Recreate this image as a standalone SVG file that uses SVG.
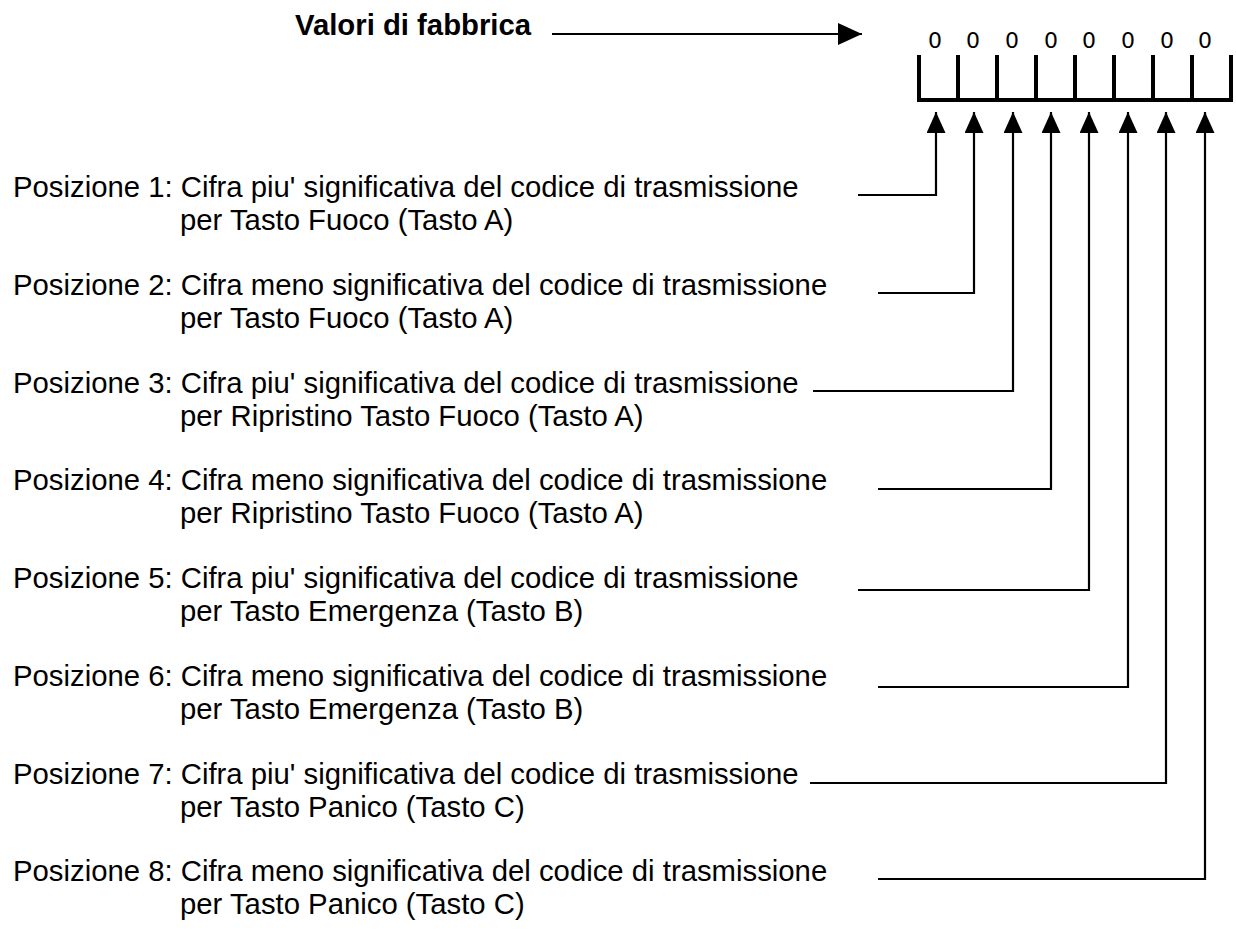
<svg xmlns="http://www.w3.org/2000/svg" width="1236" height="952" viewBox="0 0 1236 952">
<style>
text{font-family:"Liberation Sans",Arial,sans-serif;font-size:29.3px;fill:#000}
.b{font-weight:bold}
.d{font-family:"DejaVu Sans","Liberation Sans",sans-serif;font-size:22px;text-anchor:middle}
.c{fill:none;stroke:#000;stroke-width:2.2}
.box{fill:none;stroke:#000;stroke-width:4}
</style>
<defs>
<marker id="ah" viewBox="0 0 21 19" refX="21" refY="9.5" markerWidth="21" markerHeight="19" markerUnits="userSpaceOnUse" orient="auto"><path d="M0,0 L21,9.5 L0,19 z" fill="#000"/></marker>
<marker id="ah2" viewBox="0 0 24 22" refX="24" refY="11" markerWidth="24" markerHeight="22" markerUnits="userSpaceOnUse" orient="auto"><path d="M0,0 L24,11 L0,22 z" fill="#000"/></marker>
</defs>
<g id="title"><text class="b" x="295" y="35">Valori di fabbrica</text></g>
<g id="register">
<path class="box" d="M919,55 V100 H1231 V55 M958,55 V100 M997,55 V100 M1036,55 V100 M1075,55 V100 M1114,55 V100 M1153,55 V100 M1192,55 V100"/>
<text class="d" x="935" y="48">0</text>
<text class="d" x="973" y="48">0</text>
<text class="d" x="1012" y="48">0</text>
<text class="d" x="1051" y="48">0</text>
<text class="d" x="1089" y="48">0</text>
<text class="d" x="1128" y="48">0</text>
<text class="d" x="1167" y="48">0</text>
<text class="d" x="1205" y="48">0</text>
</g>
<g id="p1"><text x="13" y="197">Posizione 1: Cifra piu' significativa del codice di trasmissione</text><text x="180" y="230">per Tasto Fuoco (Tasto A)</text></g>
<g id="p2"><text x="13" y="295">Posizione 2: Cifra meno significativa del codice di trasmissione</text><text x="180" y="328">per Tasto Fuoco (Tasto A)</text></g>
<g id="p3"><text x="13" y="393">Posizione 3: Cifra piu' significativa del codice di trasmissione</text><text x="180" y="426">per Ripristino Tasto Fuoco (Tasto A)</text></g>
<g id="p4"><text x="13" y="490">Posizione 4: Cifra meno significativa del codice di trasmissione</text><text x="180" y="523">per Ripristino Tasto Fuoco (Tasto A)</text></g>
<g id="p5"><text x="13" y="588">Posizione 5: Cifra piu' significativa del codice di trasmissione</text><text x="180" y="621">per Tasto Emergenza (Tasto B)</text></g>
<g id="p6"><text x="13" y="686">Posizione 6: Cifra meno significativa del codice di trasmissione</text><text x="180" y="719">per Tasto Emergenza (Tasto B)</text></g>
<g id="p7"><text x="13" y="784">Posizione 7: Cifra piu' significativa del codice di trasmissione</text><text x="180" y="817">per Tasto Panico (Tasto C)</text></g>
<g id="p8"><text x="13" y="881">Posizione 8: Cifra meno significativa del codice di trasmissione</text><text x="180" y="914">per Tasto Panico (Tasto C)</text></g>
<g id="connectors">
<path class="c" d="M552,34 H862" marker-end="url(#ah2)"/>
<path class="c" d="M858,195 H936 V112" marker-end="url(#ah)"/>
<path class="c" d="M878,293 H974 V112" marker-end="url(#ah)"/>
<path class="c" d="M813,391 H1013 V112" marker-end="url(#ah)"/>
<path class="c" d="M878,489 H1051 V112" marker-end="url(#ah)"/>
<path class="c" d="M858,590 H1089 V112" marker-end="url(#ah)"/>
<path class="c" d="M878,687 H1128 V112" marker-end="url(#ah)"/>
<path class="c" d="M810,783 H1166 V112" marker-end="url(#ah)"/>
<path class="c" d="M878,879 H1205 V112" marker-end="url(#ah)"/>
</g>
</svg>
